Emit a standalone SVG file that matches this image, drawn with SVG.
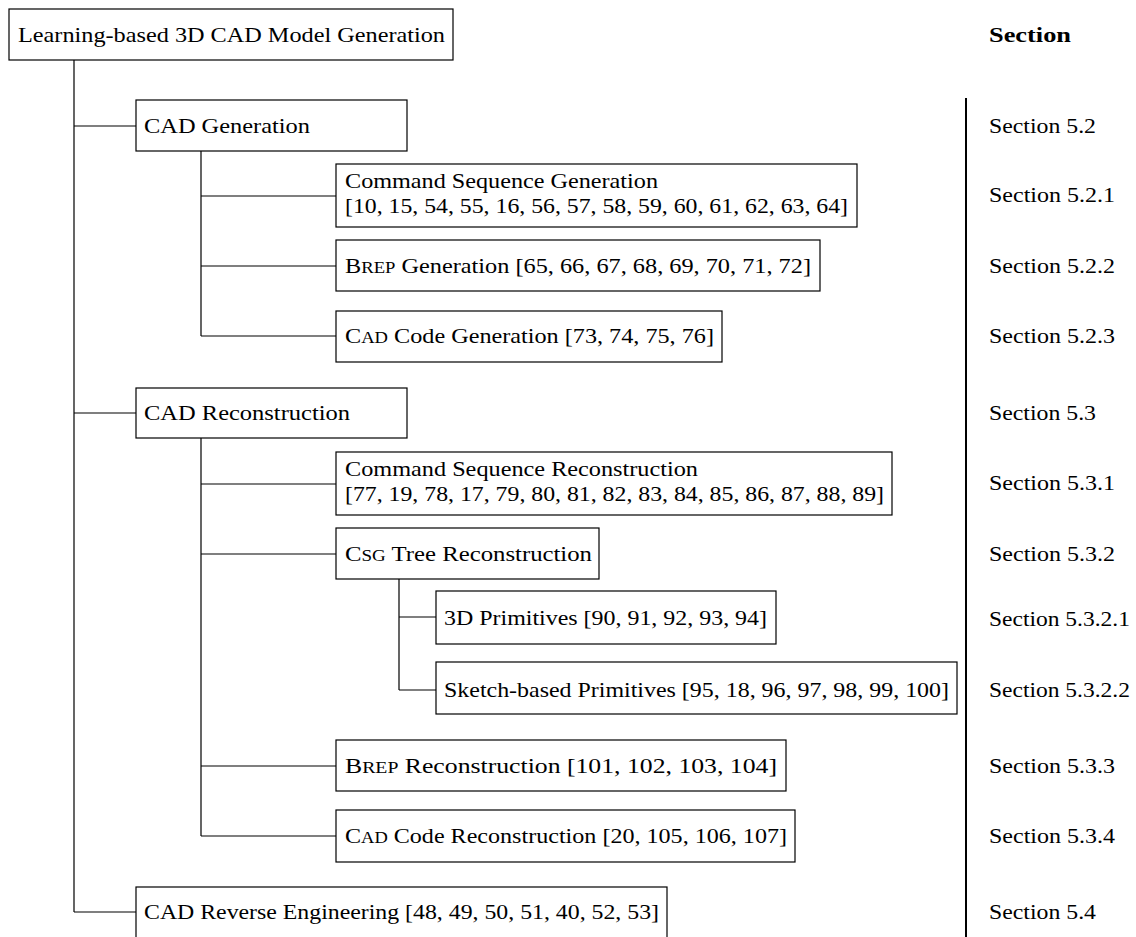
<svg xmlns="http://www.w3.org/2000/svg" width="1136" height="937" viewBox="0 0 1136 937">
  <style>
    .box { fill: #ffffff; stroke: #000000; stroke-width: 1.2; }
    .edge { fill: none; stroke: #000000; stroke-width: 1.2; }
    .rule { fill: none; stroke: #000000; stroke-width: 2; }
    text { font-family: "Liberation Serif", "Times New Roman", serif; font-size: 21.5px; fill: #000000; }
    .sc { font-size: 16.5px; }
    .head { font-weight: bold; }
  </style>

  <!-- tree connectors -->
  <g id="connectors">
    <path class="edge" d="M74,60 V912 M74,126 H136 M74,413 H136 M74,912 H136"/>
    <path class="edge" d="M201,151 V336 M201,196 H336 M201,266 H336 M201,336 H336"/>
    <path class="edge" d="M201,438 V836 M201,484 H336 M201,554 H336 M201,766 H336 M201,836 H336"/>
    <path class="edge" d="M399,579 V690 M399,617 H436 M399,690 H436"/>
  </g>

  <!-- root -->
  <g id="root">
    <rect class="box" x="9" y="9" width="444" height="51"/>
    <text x="18" y="42" textLength="427" lengthAdjust="spacingAndGlyphs">Learning-based 3D CAD Model Generation</text>
  </g>

  <!-- CAD generation branch -->
  <g id="cad-generation">
    <rect class="box" x="136" y="100" width="271" height="51"/>
    <text x="144" y="133" textLength="166" lengthAdjust="spacingAndGlyphs">CAD Generation</text>
  </g>
  <g id="cmd-seq-generation">
    <rect class="box" x="336" y="164" width="521" height="63"/>
    <text x="345" y="188" textLength="313" lengthAdjust="spacingAndGlyphs">Command Sequence Generation</text>
    <text x="345" y="213" textLength="503" lengthAdjust="spacingAndGlyphs">[10, 15, 54, 55, 16, 56, 57, 58, 59, 60, 61, 62, 63, 64]</text>
  </g>
  <g id="brep-generation">
    <rect class="box" x="336" y="240" width="484" height="51"/>
    <text x="345" y="273" textLength="466" lengthAdjust="spacingAndGlyphs">B<tspan class="sc">REP</tspan> Generation [65, 66, 67, 68, 69, 70, 71, 72]</text>
  </g>
  <g id="cad-code-generation">
    <rect class="box" x="336" y="311" width="386" height="51"/>
    <text x="345" y="343" textLength="369" lengthAdjust="spacingAndGlyphs">C<tspan class="sc">AD</tspan> Code Generation [73, 74, 75, 76]</text>
  </g>

  <!-- CAD reconstruction branch -->
  <g id="cad-reconstruction">
    <rect class="box" x="136" y="388" width="271" height="50"/>
    <text x="144" y="420" textLength="206" lengthAdjust="spacingAndGlyphs">CAD Reconstruction</text>
  </g>
  <g id="cmd-seq-reconstruction">
    <rect class="box" x="336" y="452" width="556" height="63"/>
    <text x="345" y="476" textLength="353" lengthAdjust="spacingAndGlyphs">Command Sequence Reconstruction</text>
    <text x="345" y="501" textLength="539" lengthAdjust="spacingAndGlyphs">[77, 19, 78, 17, 79, 80, 81, 82, 83, 84, 85, 86, 87, 88, 89]</text>
  </g>
  <g id="csg-tree-reconstruction">
    <rect class="box" x="336" y="528" width="263" height="51"/>
    <text x="345" y="561" textLength="247" lengthAdjust="spacingAndGlyphs">C<tspan class="sc">SG</tspan> Tree Reconstruction</text>
  </g>
  <g id="primitives-3d">
    <rect class="box" x="436" y="591" width="340" height="53"/>
    <text x="444" y="625" textLength="323" lengthAdjust="spacingAndGlyphs">3D Primitives [90, 91, 92, 93, 94]</text>
  </g>
  <g id="sketch-primitives">
    <rect class="box" x="436" y="662" width="521" height="52"/>
    <text x="444" y="697" textLength="505" lengthAdjust="spacingAndGlyphs">Sketch-based Primitives [95, 18, 96, 97, 98, 99, 100]</text>
  </g>
  <g id="brep-reconstruction">
    <rect class="box" x="336" y="740" width="450" height="51"/>
    <text x="345" y="773" textLength="432" lengthAdjust="spacingAndGlyphs">B<tspan class="sc">REP</tspan> Reconstruction [101, 102, 103, 104]</text>
  </g>
  <g id="cad-code-reconstruction">
    <rect class="box" x="336" y="810" width="459" height="52"/>
    <text x="345" y="843" textLength="442" lengthAdjust="spacingAndGlyphs">C<tspan class="sc">AD</tspan> Code Reconstruction [20, 105, 106, 107]</text>
  </g>

  <!-- reverse engineering branch -->
  <g id="cad-reverse-engineering">
    <rect class="box" x="136" y="887" width="531" height="60"/>
    <text x="144" y="919" textLength="515" lengthAdjust="spacingAndGlyphs">CAD Reverse Engineering [48, 49, 50, 51, 40, 52, 53]</text>
  </g>

  <!-- section column -->
  <g id="section-column">
    <line class="rule" x1="966" y1="98" x2="966" y2="937"/>
    <text class="head" x="989" y="42" textLength="82" lengthAdjust="spacingAndGlyphs">Section</text>
    <text x="989" y="133" textLength="107" lengthAdjust="spacingAndGlyphs">Section 5.2</text>
    <text x="989" y="202" textLength="126" lengthAdjust="spacingAndGlyphs">Section 5.2.1</text>
    <text x="989" y="273" textLength="126" lengthAdjust="spacingAndGlyphs">Section 5.2.2</text>
    <text x="989" y="343" textLength="126" lengthAdjust="spacingAndGlyphs">Section 5.2.3</text>
    <text x="989" y="420" textLength="107" lengthAdjust="spacingAndGlyphs">Section 5.3</text>
    <text x="989" y="490" textLength="126" lengthAdjust="spacingAndGlyphs">Section 5.3.1</text>
    <text x="989" y="561" textLength="126" lengthAdjust="spacingAndGlyphs">Section 5.3.2</text>
    <text x="989" y="626" textLength="141" lengthAdjust="spacingAndGlyphs">Section 5.3.2.1</text>
    <text x="989" y="697" textLength="141" lengthAdjust="spacingAndGlyphs">Section 5.3.2.2</text>
    <text x="989" y="773" textLength="126" lengthAdjust="spacingAndGlyphs">Section 5.3.3</text>
    <text x="989" y="843" textLength="126" lengthAdjust="spacingAndGlyphs">Section 5.3.4</text>
    <text x="989" y="919" textLength="107" lengthAdjust="spacingAndGlyphs">Section 5.4</text>
  </g>
</svg>
